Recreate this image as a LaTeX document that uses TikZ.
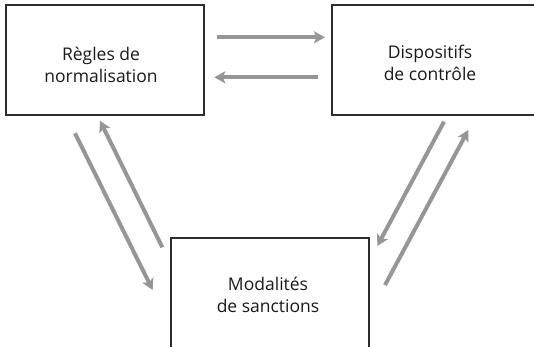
\documentclass[tikz,border=0pt]{standalone}
\usepackage{fontspec}
\setmainfont{Open Sans}
\usetikzlibrary{arrows.meta}
\definecolor{arrgray}{RGB}{150,150,150}
\definecolor{boxline}{RGB}{45,45,45}
\begin{document}
\begin{tikzpicture}[x=1pt,y=-1pt,
  box/.style={draw=boxline,line width=1.1pt,rectangle,inner sep=0pt},
  lbl/.style={align=center,font=\fontsize{17.5}{21.7}\selectfont,text=black!90,inner sep=0pt},
  flow/.style={draw=arrgray,line width=4pt,-{Stealth[length=11pt,width=12pt,inset=2.5pt]}}]
\useasboundingbox (0,0) rectangle (534,346);
\clip (0,0) rectangle (534,346);
% boxes
\node[box,minimum width=198pt,minimum height=110pt] (regles) at (105,60) {};
\node[box,minimum width=230pt,minimum height=110pt] (dispo) at (447,60) {};
\node[box,minimum width=198pt,minimum height=130pt] (modal) at (270,303) {};
% labels
\node[lbl] (tregles) at (101,65) {Règles de\\normalisation};
\node[lbl] (tdispo) at (430,63) {Dispositifs\\de contrôle};
\node[lbl] (tmodal) at (268,295) {Modalités\\de sanctions};
% arrow end points
\coordinate (a1s) at (216.7,37.3);  \coordinate (a1e) at (325,37.3);
\coordinate (a2s) at (318.3,77.3);  \coordinate (a2e) at (214.3,77.3);
\coordinate (a3s) at (75,133.3);    \coordinate (a3e) at (152.7,290);
\coordinate (a4s) at (162.3,247.3); \coordinate (a4e) at (100,120.7);
\coordinate (a5s) at (444,121.7);   \coordinate (a5e) at (377.3,246);
\coordinate (a6s) at (385,285);     \coordinate (a6e) at (468.3,130);
\draw[flow] (a1s) -- (a1e);
\draw[flow] (a2s) -- (a2e);
\draw[flow] (a3s) -- (a3e);
\draw[flow] (a4s) -- (a4e);
\draw[flow] (a5s) -- (a5e);
\draw[flow] (a6s) -- (a6e);
\end{tikzpicture}
\end{document}
